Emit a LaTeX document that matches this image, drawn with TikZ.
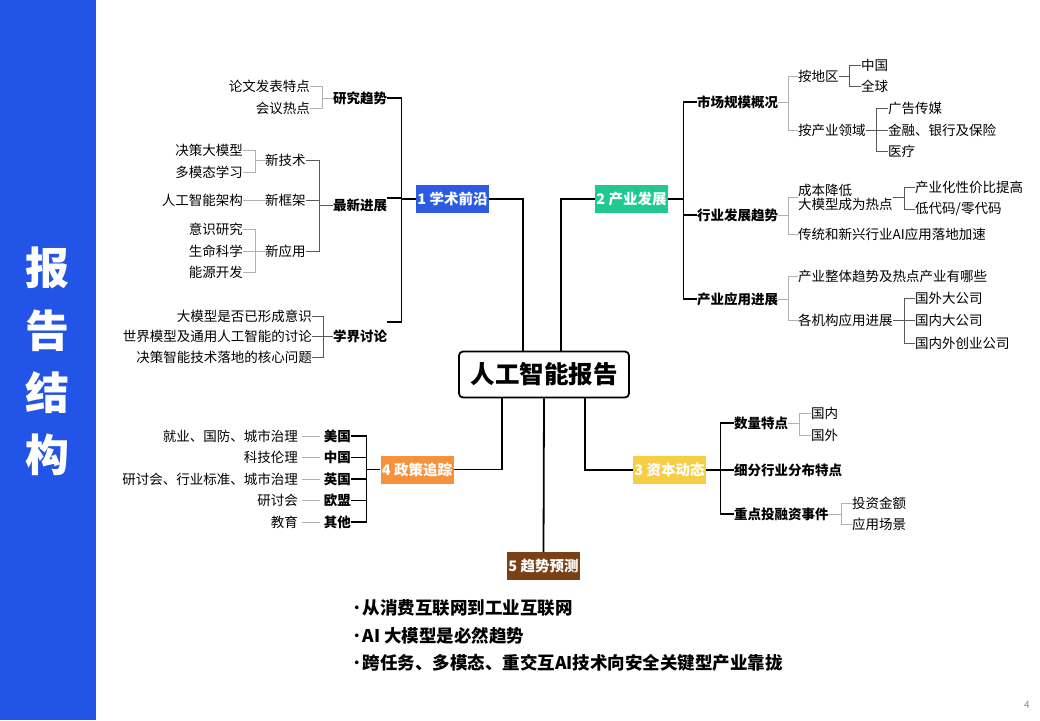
\documentclass[tikz,border=0pt]{standalone}
\usepackage{fontspec}
\setmainfont{Noto Sans CJK SC}
\usepackage{tikz}
\usepackage{xcolor}
\definecolor{sbblue}{HTML}{2354E8}
\definecolor{tblue}{HTML}{2B5BE3}
\definecolor{tgreen}{HTML}{1FC98F}
\definecolor{tyellow}{HTML}{F5CE45}
\definecolor{torange}{HTML}{F7923C}
\definecolor{tbrown}{HTML}{7A4016}

\begin{document}
\begin{tikzpicture}[x=1pt, y=-1pt,
  leaf/.style={inner sep=0pt, font=\fontsize{13.5}{14}\selectfont},
  sub/.style={inner sep=0pt, font=\bfseries\fontsize{13.5}{14}\selectfont},
  topic/.style={fill=#1, text=white, inner sep=0pt, minimum width=73pt, minimum height=28pt, font=\bfseries\fontsize{14.5}{16}\selectfont},
  main/.style={line width=1.8pt},
  br/.style={line width=1.3pt},
  lg/.style={line width=0.9pt, black!30},
  dg/.style={line width=0.9pt, black!65},
  bullet/.style={inner sep=0pt, anchor=west, font=\bfseries\fontsize{17.5}{18}\selectfont}]
  \useasboundingbox (0,0) rectangle (1040,720);
  \fill[white] (0,0) rectangle (1040,720);
  \fill[sbblue] (0,0) rectangle (96,720);
  \node[text=white, align=center, inner sep=0pt, font=\bfseries\fontsize{44}{62.3}\selectfont] (title) at (47,361.5) {报\\告\\结\\构};
  \node[text=black!45, inner sep=0pt, font=\fontsize{10}{12}\selectfont] (pgno) at (1027,705) {4};

  \node[draw, line width=1.8pt, rounded corners=4pt, minimum width=170pt, minimum height=46pt, inner sep=0pt, font=\bfseries\fontsize{24.5}{28}\selectfont] (root) at (544,374.5) {人工智能报告};
  \node[topic=tblue] (t1) at (452.5,199) {1 学术前沿};
  \node[topic=tgreen] (t2) at (631.5,199) {2 产业发展};
  \node[topic=tyellow] (t3) at (669.5,470) {3 资本动态};
  \node[topic=torange] (t4) at (417,469.5) {4 政策追踪};
  \node[topic=tbrown] (t5) at (543.5,566) {5 趋势预测};

  \draw[main] (t1.east) -| ([xshift=-21pt]root.north);
  \draw[main] (t2.west) -| ([xshift=17pt]root.north);
  \draw[main] (t4.east) -| ([xshift=-42pt]root.south);
  \draw[main] (t3.west) -| ([xshift=41pt]root.south);
  \draw[main] (root.south) -- (t5.north);

  % 1 学术前沿
  \node[sub, anchor=west] (yjqs) at (333,98) {研究趋势};
  \node[sub, anchor=west] (zxjz) at (333,205) {最新进展};
  \node[sub, anchor=west] (xjtl) at (333,336) {学界讨论};
  \node[leaf, anchor=east] (lwfb) at (310,86) {论文发表特点};
  \node[leaf, anchor=east] (hyrd) at (310,108) {会议热点};
  \node[leaf, anchor=west] (xjs) at (265,160) {新技术};
  \node[leaf, anchor=west] (xkj) at (265,200) {新框架};
  \node[leaf, anchor=west] (xyy) at (265,251) {新应用};
  \node[leaf, anchor=east] (jcdmx) at (243,150) {决策大模型};
  \node[leaf, anchor=east] (dmtxx) at (243,172) {多模态学习};
  \node[leaf, anchor=east] (rgzn) at (243,200) {人工智能架构};
  \node[leaf, anchor=east] (ysyj) at (243,229) {意识研究};
  \node[leaf, anchor=east] (smkx) at (243,251) {生命科学};
  \node[leaf, anchor=east] (nykf) at (243,272) {能源开发};
  \node[leaf, anchor=east] (sfys) at (312,316) {大模型是否已形成意识};
  \node[leaf, anchor=east] (sjmx) at (312,336) {世界模型及通用人工智能的讨论};
  \node[leaf, anchor=east] (jczn) at (312,357) {决策智能技术落地的核心问题};

  \draw[br] (t1.west) -- ++(-14,0) coordinate (b1) (yjqs.east) -| (b1) ([yshift=7pt]zxjz.east) -| (b1) ([yshift=14pt]xjtl.east) -| (b1);
  \draw[lg] (yjqs.west) -- ++(-11,0) coordinate (b11) (lwfb.east) -| (b11) (hyrd.east) -| (b11);
  \draw[dg] (zxjz.west) -- ++(-14,0) coordinate (b12) (xjs.east) -| (b12) (xkj.east) -| (b12) (xyy.east) -| (b12);
  \draw[lg] (xjs.west) -- ++(-10,0) coordinate (b121) (jcdmx.east) -| (b121) (dmtxx.east) -| (b121);
  \draw[lg] (xkj.west) -- (rgzn.east);
  \draw[lg] (xyy.west) -- ++(-10,0) coordinate (b123) (ysyj.east) -| (b123) (smkx.east) -| (b123) (nykf.east) -| (b123);
  \draw[dg] (xjtl.west) -- ++(-10,0) coordinate (b13) (sfys.east) -| (b13) (sjmx.east) -| (b13) (jczn.east) -| (b13);

  % 2 产业发展
  \node[sub, anchor=west] (scgm) at (697,102) {市场规模概况};
  \node[sub, anchor=west] (hyfz) at (697,215) {行业发展趋势};
  \node[sub, anchor=west] (cyyy) at (697,299) {产业应用进展};
  \node[leaf, anchor=west] (adq) at (798,76) {按地区};
  \node[leaf, anchor=west] (acy) at (798,130) {按产业领域};
  \node[leaf, anchor=west] (zg) at (861,65) {中国};
  \node[leaf, anchor=west] (qq) at (861,86) {全球};
  \node[leaf, anchor=west] (ggcm) at (888,108) {广告传媒};
  \node[leaf, anchor=west] (jryh) at (888,130) {金融、银行及保险};
  \node[leaf, anchor=west] (yl) at (888,151) {医疗};
  \node[leaf, anchor=west, align=left] (cbjd) at (798,197) {成本降低\\大模型成为热点};
  \node[leaf, anchor=west] (xjbtg) at (915,187) {产业化性价比提高};
  \node[leaf, anchor=west] (ddm) at (915,209) {低代码/零代码};
  \node[leaf, anchor=west] (ctxx) at (798,234) {传统和新兴行业AI应用落地加速};
  \node[leaf, anchor=west] (cyzt) at (798,276) {产业整体趋势及热点产业有哪些};
  \node[leaf, anchor=west] (gjg) at (798,320) {各机构应用进展};
  \node[leaf, anchor=west] (gwdgs) at (915,298) {国外大公司};
  \node[leaf, anchor=west] (gndgs) at (915,320) {国内大公司};
  \node[leaf, anchor=west] (cygs) at (915,343) {国内外创业公司};

  \draw[br] (t2.east) -- ++(15,0) coordinate (b2) (scgm.west) -| (b2) (hyfz.west) -| (b2) (cyyy.west) -| (b2);
  \draw[lg] (scgm.east) -- ++(10,0) coordinate (b21) (adq.west) -| (b21) (acy.west) -| (b21);
  \draw[dg] (adq.east) -- ++(11,0) coordinate (b211) (zg.west) -| (b211) (qq.west) -| (b211);
  \draw[dg] (acy.east) -- ++(11,0) coordinate (b212) (ggcm.west) -| (b212) (jryh.west) -| (b212) (yl.west) -| (b212);
  \draw[lg] (hyfz.east) -- ++(10,0) coordinate (b22) (cbjd.west) -| (b22) (ctxx.west) -| (b22);
  \draw[dg] (cbjd.east) -- ++(12,0) coordinate (b221) (xjbtg.west) -| (b221) (ddm.west) -| (b221);
  \draw[lg] (cyyy.east) -- ++(10,0) coordinate (b23) (cyzt.west) -| (b23) (gjg.west) -| (b23);
  \draw[dg] (gjg.east) -- ++(12,0) coordinate (b231) (gwdgs.west) -| (b231) (gndgs.west) -| (b231) (cygs.west) -| (b231);

  % 3 资本动态
  \node[sub, anchor=west] (sltd) at (734,423) {数量特点};
  \node[sub, anchor=west] (xfhy) at (734,470) {细分行业分布特点};
  \node[sub, anchor=west] (zdtr) at (734,514) {重点投融资事件};
  \node[leaf, anchor=west] (gn) at (811,413) {国内};
  \node[leaf, anchor=west] (gw) at (811,435) {国外};
  \node[leaf, anchor=west] (tzje) at (852,503) {投资金额};
  \node[leaf, anchor=west] (yycj) at (852,524) {应用场景};

  \draw[br] (t3.east) -- ++(14,0) coordinate (b3) (sltd.west) -| (b3) (xfhy.west) -| (b3) (zdtr.west) -| (b3);
  \draw[lg] (sltd.east) -- ++(11,0) coordinate (b31) (gn.west) -| (b31) (gw.west) -| (b31);
  \draw[lg] (zdtr.east) -- ++(13,0) coordinate (b33) (tzje.west) -| (b33) (yycj.west) -| (b33);

  % 4 政策追踪
  \node[sub, anchor=east] (mg) at (351,436) {美国};
  \node[sub, anchor=east] (zgc) at (351,457.5) {中国};
  \node[sub, anchor=east] (yg) at (351,479) {英国};
  \node[sub, anchor=east] (om) at (351,500.5) {欧盟};
  \node[sub, anchor=east] (qt) at (351,522) {其他};
  \node[leaf, anchor=east] (jygf) at (298,436) {就业、国防、城市治理};
  \node[leaf, anchor=east] (kjll) at (298,457.5) {科技伦理};
  \node[leaf, anchor=east] (ythy) at (298,479) {研讨会、行业标准、城市治理};
  \node[leaf, anchor=east] (yth) at (298,500.5) {研讨会};
  \node[leaf, anchor=east] (jy) at (298,522) {教育};

  \draw[br] (t4.west) -- ++(-14,0) coordinate (b4) (mg.east) -| (b4) (zgc.east) -| (b4) (yg.east) -| (b4) (om.east) -| (b4) (qt.east) -| (b4);
  \draw[lg] ([xshift=4pt]jygf.east) -- ([xshift=-4pt]mg.west);
  \draw[lg] ([xshift=4pt]kjll.east) -- ([xshift=-4pt]zgc.west);
  \draw[lg] ([xshift=4pt]ythy.east) -- ([xshift=-4pt]yg.west);
  \draw[lg] ([xshift=4pt]yth.east) -- ([xshift=-4pt]om.west);
  \draw[lg] ([xshift=4pt]jy.east) -- ([xshift=-4pt]qt.west);

  % 5 趋势预测
  \node[bullet] (p1) at (348,608) {{\mdseries ·}\kern-3pt 从消费互联网到工业互联网};
  \node[bullet] (p2) at (348,636) {{\mdseries ·}\kern-3pt AI 大模型是必然趋势};
  \node[bullet] (p3) at (348,663) {{\mdseries ·}\kern-3pt 跨任务、多模态、重交互AI技术向安全关键型产业靠拢};
\end{tikzpicture}
\end{document}
